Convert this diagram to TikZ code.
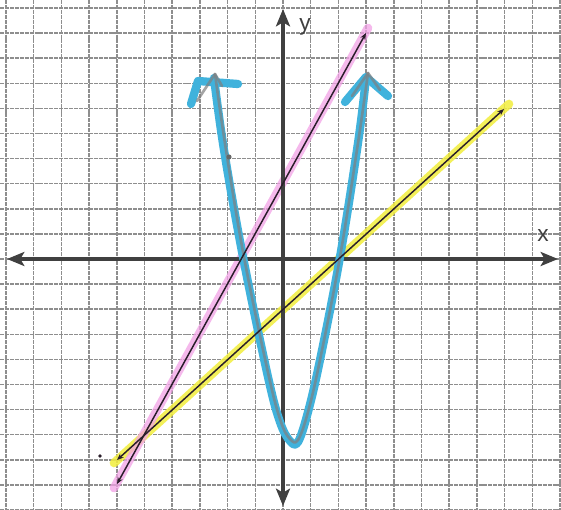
\documentclass[tikz,border=0pt]{standalone}
\usepackage{fontspec}
\setmainfont{Liberation Sans}
\usetikzlibrary{arrows.meta}
\definecolor{gridc}{HTML}{8E8E8E}
\definecolor{axisc}{HTML}{404040}
\definecolor{bluec}{HTML}{40B2DC}
\definecolor{pinkc}{HTML}{F2A2E6}
\definecolor{yellowc}{HTML}{F2EE3C}
\definecolor{pencilc}{HTML}{2A1E2A}
\tikzset{
  gridline/.style={draw=gridc, line width=1.1pt, dash pattern=on 3pt off 0.7pt},
  axisline/.style={draw=axisc, line width=2.4pt, {Stealth[length=13pt,width=10.5pt,inset=3pt]}-{Stealth[length=13pt,width=10.5pt,inset=3pt]}},
  axislabel/.style={text=axisc, font=\fontsize{17}{17}\selectfont, inner sep=0pt},
  highlight/.style={line width=6.5pt, line cap=round, opacity=0.85},
  pencil/.style={draw=pencilc, line width=1.1pt, {Stealth[length=5pt,width=4pt]}-{Stealth[length=5pt,width=4pt]}},
  bluestroke/.style={draw=bluec, line width=6.2pt, line cap=round, line join=round},
  graystroke/.style={draw=gray, line width=2pt, opacity=0.7, line cap=round, line join=round}
}
\begin{document}
\begin{tikzpicture}[x=0.75pt,y=-0.75pt]
\useasboundingbox (0,0) rectangle (561,510);
\fill[white] (0,0) rectangle (561,510);
% grid
\foreach \k in {-10,...,10} {
  \draw[gridline] ({283+27.7*\k},0) -- ({283+27.7*\k},510);
  \draw[gridline] (0,{259+25.1*\k}) -- (561,{259+25.1*\k});
}
% highlighter strokes
\coordinate (yA) at (114,463);
\coordinate (yB) at (509,104);
\coordinate (pA) at (114,488);
\coordinate (pB) at (368,28);
\draw[highlight, draw=yellowc] (yA) -- (yB);
\draw[highlight, draw=pinkc, opacity=0.75] (pA) -- (pB);
% axes
\coordinate (xl) at (7,259);
\coordinate (xr) at (558,259);
\coordinate (yt) at (283,9);
\coordinate (yb) at (283,506);
\draw[axisline] (xl) -- (xr);
\draw[axisline] (yb) -- (yt);
\node[axislabel] (xlab) at (543,236) {x};
\node[axislabel] (ylab) at (305,27) {y};
% parabola (blue marker over pencil)
\draw[bluestroke] plot[smooth, tension=0.6] coordinates {(214,78) (224,150) (243,257) (268,377) (280,422) (290,441) (298,442) (308,412) (320,360) (340,257) (358,143) (366,78)};
\draw[bluestroke] (191,104) -- (198,81) -- (238,84);
\draw[bluestroke] (345,102) -- (366,77) -- (388,96);
\draw[graystroke] plot[smooth, tension=0.6] coordinates {(215,74) (226,150) (244,257) (269,377) (281,422) (290,439) (298,440) (308,412) (320,360) (340,257) (358,143) (368,73)};
\draw[graystroke] (197,101) -- (215,74) -- (222,86);
\draw[graystroke] (352,96) -- (368,73) -- (380,90);
\fill[gray!80!black] (229,157) circle (2.6);
% pencil lines
\coordinate (pa) at (117,484);
\coordinate (pb) at (366,33);
\coordinate (ya) at (117,460);
\coordinate (yb2) at (504,109);
\draw[pencil] (ya) -- (yb2);
\draw[pencil] (pa) -- (pb);
% stray dot
\fill[pencilc] (100,456) circle (1.8);
\end{tikzpicture}
\end{document}
